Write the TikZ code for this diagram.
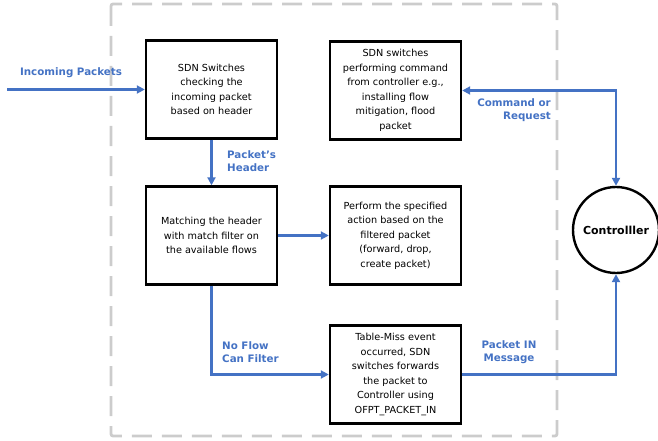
\documentclass[tikz,border=0pt]{standalone}
\usepackage{fontspec}
\setmainfont{DejaVu Sans}
\usepackage{tikz}
\usetikzlibrary{arrows.meta, positioning, calc}
\definecolor{flowblue}{RGB}{68,114,196}
\definecolor{framegray}{RGB}{204,204,204}

\begin{document}
\begin{tikzpicture}[x=1pt, y=-1pt,
  box/.style={draw, line width=2.4pt, minimum width=131pt, minimum height=98pt, align=center, inner sep=2pt, font=\fontsize{9.7}{14.5}\selectfont},
  flow/.style={flowblue, line width=2.2pt, -{Triangle[length=8pt,width=8pt]}},
  lbl/.style={text=flowblue, inner sep=0pt, font=\bfseries\fontsize{10.3}{13.3}\selectfont}]
\useasboundingbox (0,0) rectangle (658,441);
% Frame
\draw[framegray, line width=2.8pt, dash pattern=on 20pt off 10pt, rounded corners=2pt] (111,4) rectangle (557,436);
% Boxes
\node[box] (check) at (211.5,89.5) {SDN Switches\\checking the\\incoming packet\\based on header};
\node[box] (perform) at (395.5,90.5) {SDN switches\\performing command\\from controller e.g.,\\installing flow\\mitigation, flood\\packet};
\node[box] (match) at (211.5,235.5) {Matching the header\\with match filter on\\the available flows};
\node[box] (action) at (395.5,235.5) {Perform the specified\\action based on the\\filtered packet\\(forward, drop,\\create packet)};
\node[box] (miss) at (395.5,374.5) {Table-Miss event\\occurred, SDN\\switches forwards\\the packet to\\Controller using\\OFPT\_PACKET\_IN};
\node[draw, circle, line width=2.4pt, minimum size=86pt, font=\bfseries\fontsize{11}{13}\selectfont] (ctrl) at (616,230) {Controlller};
% Arrows
\coordinate (in) at (7,89.5);
\draw[flow] (in) -- (check.west);
\draw[flow] (check.south) -- (match.north);
\draw[flow] (match.east) -- (action.west);
\draw[flow] (match.south) |- (miss.west);
\draw[flow] (miss.east) -| (ctrl.south);
\draw[flow, {Triangle[length=8pt,width=8pt]}-{Triangle[length=8pt,width=8pt]}] (perform.east) -| (ctrl.north);
% Labels
\node[lbl] (lin) at (71,73) {Incoming Packets};
\node[lbl, align=left, anchor=west] (lhead) at (227,161.5) {Packet’s\\Header};
\node[lbl, align=left, anchor=west] (lnoflow) at (222,352.5) {No Flow\\Can Filter};
\node[lbl, align=right, anchor=east] (lcmd) at (551,110) {Command or\\Request};
\node[lbl, align=center] (lpin) at (509,352.5) {Packet IN\\Message};
\end{tikzpicture}
\end{document}
